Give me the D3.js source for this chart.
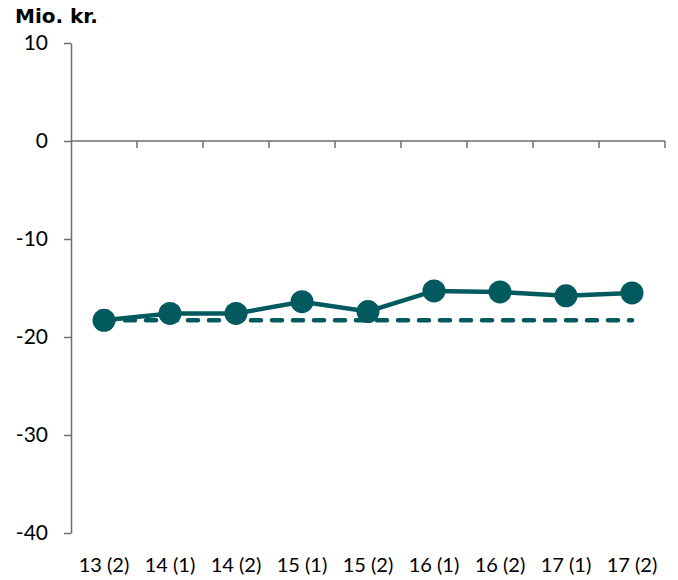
<!DOCTYPE html>
<html>
<head>
<meta charset="utf-8">
<script src="https://cdn.jsdelivr.net/npm/d3@7"></script>
<style>
  body { margin: 0; background: #fff; }
  text { font-family: Lato, "Open Sans", sans-serif; }
</style>
</head>
<body>
<svg id="chart" width="678" height="580"></svg>
<script>
const categories = ["13 (2)", "14 (1)", "14 (2)", "15 (1)", "15 (2)", "16 (1)", "16 (2)", "17 (1)", "17 (2)"];
const actual = [-18.3, -17.6, -17.6, -16.4, -17.4, -15.3, -15.4, -15.8, -15.5];
const baseline = [-18.3, -18.3, -18.3, -18.3, -18.3, -18.3, -18.3, -18.3, -18.3];
const yTicks = [10, 0, -10, -20, -30, -40];

const color = "#035a5e";
const axisColor = "#6e6e6e";
const margin = { top: 43, right: 13, bottom: 47, left: 71 };
const width = 678, height = 580;
const svg = d3.select("#chart");

const x = d3.scaleBand()
  .domain(categories)
  .range([margin.left, width - margin.right]);
const y = d3.scaleLinear()
  .domain([-40, 10])
  .range([height - margin.bottom, margin.top]);

// y axis, plain hyphen for negatives
const yAxis = svg.append("g")
  .attr("transform", "translate(" + margin.left + ",0)")
  .call(d3.axisLeft(y).tickValues(yTicks).tickSize(7).tickSizeOuter(0).tickPadding(16).tickFormat((d) => String(d)));
yAxis.select(".domain").attr("stroke", axisColor).attr("stroke-width", 1.5);
yAxis.selectAll(".tick line").attr("stroke", axisColor).attr("stroke-width", 1.5);
yAxis.selectAll(".tick text").attr("font-size", 21).attr("fill", "#000")
  .style("font-family", "Lato, 'Open Sans', sans-serif");

// x axis at zero, ticks between categories
const xAxis = svg.append("g").attr("transform", "translate(0," + y(0) + ")");
xAxis.append("line")
  .attr("x1", margin.left).attr("x2", x.range()[1])
  .attr("stroke", axisColor).attr("stroke-width", 1.5);
xAxis.selectAll(".xt")
  .data(categories)
  .join("line")
  .attr("x1", (d) => x(d) + x.bandwidth())
  .attr("x2", (d) => x(d) + x.bandwidth())
  .attr("y1", 0).attr("y2", 7)
  .attr("stroke", axisColor).attr("stroke-width", 1.5);

// category labels at bottom
svg.append("g").selectAll("text")
  .data(categories)
  .join("text")
  .attr("x", (d) => x(d) + x.bandwidth() / 2)
  .attr("y", 572)
  .attr("text-anchor", "middle")
  .attr("font-size", 20)
  .attr("fill", "#000")
  .text((d) => d);

const cx = (d, i) => x(categories[i]) + x.bandwidth() / 2;

// baseline dashed
svg.append("path")
  .datum(baseline)
  .attr("fill", "none")
  .attr("stroke", color)
  .attr("stroke-width", 4.5)
  .attr("stroke-linecap", "round")
  .attr("stroke-dasharray", "10 11")
  .attr("d", d3.line().x(cx).y((d) => y(d)));

// actual line
svg.append("path")
  .datum(actual)
  .attr("fill", "none")
  .attr("stroke", color)
  .attr("stroke-width", 4.5)
  .attr("d", d3.line().x(cx).y((d) => y(d)));

svg.append("g").selectAll("circle")
  .data(actual)
  .join("circle")
  .attr("cx", cx)
  .attr("cy", (d) => y(d))
  .attr("r", 11.5)
  .attr("fill", color);

// unit title
svg.append("text")
  .attr("x", 15)
  .attr("y", 23)
  .attr("font-size", 20)
  .attr("font-weight", "bold")
  .style("font-family", "'DejaVu Sans', Verdana, sans-serif")
  .attr("fill", "#000")
  .text("Mio. kr.");
</script>
</body>
</html>
